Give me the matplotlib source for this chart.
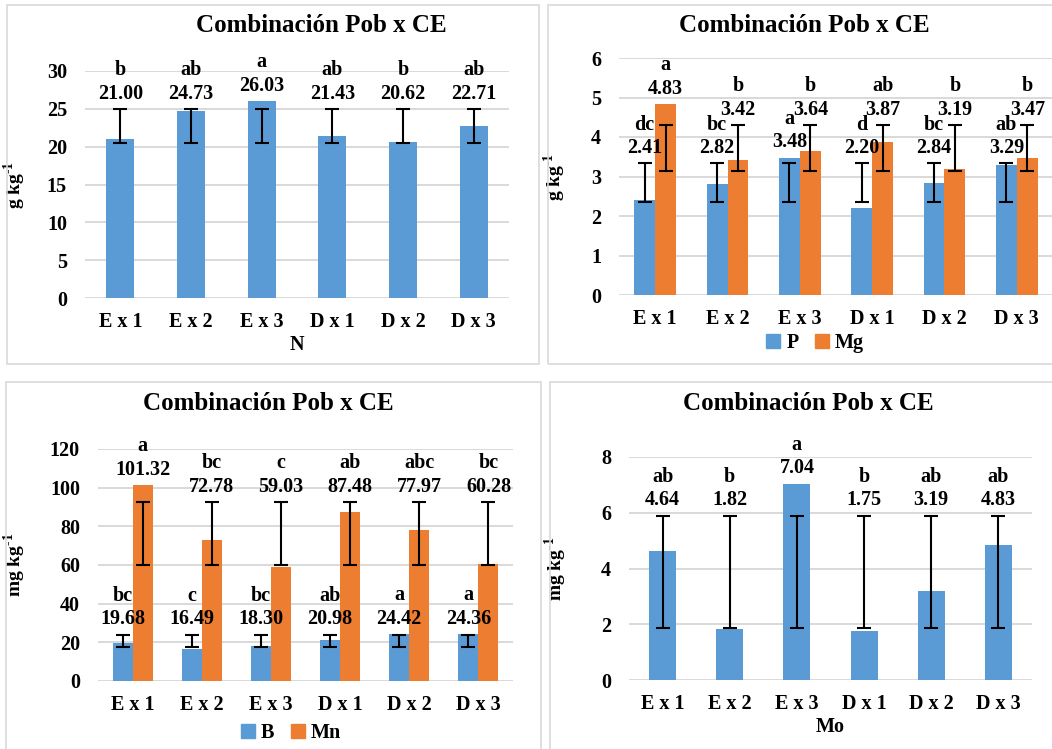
import numpy as np
import matplotlib
matplotlib.use('Agg')
import matplotlib.pyplot as plt
from matplotlib.patches import Rectangle

plt.rcParams['font.family'] = ['Liberation Serif', 'DejaVu Serif']
plt.rcParams['font.weight'] = 'bold'
plt.rcParams['mathtext.fontset'] = 'custom'
plt.rcParams['mathtext.rm'] = 'Liberation Serif:bold'
plt.rcParams['mathtext.bf'] = 'Liberation Serif:bold'

AZUL = '#5B9BD5'
NARANJA = '#ED7D31'
GRIS = '#D9D9D9'

tratamientos = ['E x 1', 'E x 2', 'E x 3', 'D x 1', 'D x 2', 'D x 3']

# N (g kg-1)
n_vals = [21.00, 24.73, 26.03, 21.43, 20.62, 22.71]
n_letras = ['b', 'ab', 'a', 'ab', 'b', 'ab']
n_err_lo = [20.5] * 6
n_err_hi = [25.0] * 6

# P y Mg (g kg-1)
p_vals = [2.41, 2.82, 3.48, 2.20, 2.84, 3.29]
p_letras = ['dc', 'bc', 'a', 'd', 'bc', 'ab']
p_err_lo = [2.35] * 6
p_err_hi = [3.33] * 6
mg_vals = [4.83, 3.42, 3.64, 3.87, 3.19, 3.47]
mg_letras = ['a', 'b', 'b', 'ab', 'b', 'b']
mg_err_lo = [3.15] * 6
mg_err_hi = [4.30] * 6

# B y Mn (mg kg-1)
b_vals = [19.68, 16.49, 18.30, 20.98, 24.42, 24.36]
b_letras = ['bc', 'c', 'bc', 'ab', 'a', 'a']
b_err_lo = [17.5] * 6
b_err_hi = [24.0] * 6
mn_vals = [101.32, 72.78, 59.03, 87.48, 77.97, 60.28]
mn_letras = ['a', 'bc', 'c', 'ab', 'abc', 'bc']
mn_err_lo = [60.0] * 6
mn_err_hi = [92.5] * 6

# Mo (mg kg-1)
mo_vals = [4.64, 1.82, 7.04, 1.75, 3.19, 4.83]
mo_letras = ['ab', 'b', 'a', 'b', 'ab', 'ab']
mo_err_lo = [1.85] * 6
mo_err_hi = [5.90] * 6

W, H = 1052, 749
fig = plt.figure(figsize=(W / 100, H / 100), dpi=100)


def caja(x0, y0, x1, y1):
    fig.add_artist(Rectangle((x0 / W, 1 - y1 / H), (x1 - x0) / W, (y1 - y0) / H,
                             transform=fig.transFigure, fill=False,
                             edgecolor=GRIS, linewidth=1.2))


def ejes(x0, x1, ytop, ybot, ymax, paso, ylabel, ylab_x):
    ax = fig.add_axes([x0 / W, 1 - ybot / H, (x1 - x0) / W, (ybot - ytop) / H])
    ax.set_xlim(-0.5, 5.5)
    ax.set_ylim(0, ymax)
    ax.set_yticks(np.arange(0, ymax + paso / 2, paso))
    ax.set_xticks(range(6))
    ax.set_xticklabels(tratamientos)
    ax.tick_params(axis='both', length=0, labelsize=14.5)
    ax.tick_params(axis='y', pad=13)
    ax.tick_params(axis='x', pad=10)
    for s in ax.spines.values():
        s.set_visible(False)
    ax.grid(axis='y', color=GRIS, linewidth=1.4)
    ax.set_axisbelow(True)
    ax.set_ylabel(ylabel, fontsize=14, fontweight='bold')
    ax.yaxis.set_label_coords((ylab_x - x0) / (x1 - x0), 0.5)
    return ax


def serie(ax, x, vals, letras, lo, hi, ancho, color):
    ax.bar(x, vals, width=ancho, color=color, zorder=2)
    lo = np.array(lo)
    hi = np.array(hi)
    ax.errorbar(x, lo, yerr=[np.zeros_like(lo), hi - lo], fmt='none',
                ecolor='black', elinewidth=1.5, capsize=4.7, capthick=1.5, zorder=3)
    for xi, v, l, h in zip(x, vals, letras, hi):
        base = max(v, h)
        ax.annotate(f'{v:.2f}', (xi, base), xytext=(0, 11), textcoords='offset points',
                    ha='center', va='center', fontsize=14.5, fontweight='bold', zorder=4)
        ax.annotate(l, (xi, base), xytext=(0, 28), textcoords='offset points',
                    ha='center', va='center', fontsize=14.5, fontweight='bold', zorder=4)


def titulo(px, py):
    fig.text(px / W, 1 - py / H, 'Combinación Pob x CE', ha='center', va='center',
             fontsize=18, fontweight='bold')


caja(7, 5, 539, 364)
caja(548, 5, 1060, 364)
caja(6, 382, 541, 760)
caja(550, 382, 1060, 760)

x = np.arange(6)
ylab_g = r'g kg$^{\text{-1}}$'
ylab_mg = r'mg kg$^{\text{-1}}$'

# N
ax1 = ejes(85, 509, 71, 298, 30, 5, ylab_g, 28)
serie(ax1, x, n_vals, n_letras, n_err_lo, n_err_hi, 0.4, AZUL)
ax1.set_xlabel('N', fontsize=14.5, fontweight='bold', labelpad=2)
titulo(321, 25)

# P y Mg
ax2 = ejes(619, 1053, 58, 295, 6, 1, ylab_g, 568)
serie(ax2, x - 0.145, p_vals, p_letras, p_err_lo, p_err_hi, 0.29, AZUL)
serie(ax2, x + 0.145, mg_vals, mg_letras, mg_err_lo, mg_err_hi, 0.29, NARANJA)
titulo(804, 25)
h2 = [Rectangle((0, 0), 1, 1, color=AZUL), Rectangle((0, 0), 1, 1, color=NARANJA)]
ax2.legend(h2, ['P', 'Mg'], loc='center', bbox_to_anchor=(815 / W, 1 - 343 / H),
           bbox_transform=fig.transFigure, ncol=2, frameon=False, fontsize=14.5,
           handlelength=0.7, handleheight=0.7, handletextpad=0.3, columnspacing=0.8)

# B y Mn
ax3 = ejes(98, 513, 449, 681, 120, 20, ylab_mg, 28)
serie(ax3, x - 0.145, b_vals, b_letras, b_err_lo, b_err_hi, 0.29, AZUL)
serie(ax3, x + 0.145, mn_vals, mn_letras, mn_err_lo, mn_err_hi, 0.29, NARANJA)
titulo(268, 403)
ax3.legend(h2, ['B', 'Mn'], loc='center', bbox_to_anchor=(291 / W, 1 - 733 / H),
           bbox_transform=fig.transFigure, ncol=2, frameon=False, fontsize=14.5,
           handlelength=0.7, handleheight=0.7, handletextpad=0.3, columnspacing=0.8)

# Mo
ax4 = ejes(629, 1032, 457, 680, 8, 2, ylab_mg, 569)
serie(ax4, x, mo_vals, mo_letras, mo_err_lo, mo_err_hi, 0.4, AZUL)
ax4.set_xlabel('Mo', fontsize=14.5, fontweight='bold', labelpad=2)
titulo(808, 403)

fig.savefig('out.png', dpi=100, facecolor='white')
